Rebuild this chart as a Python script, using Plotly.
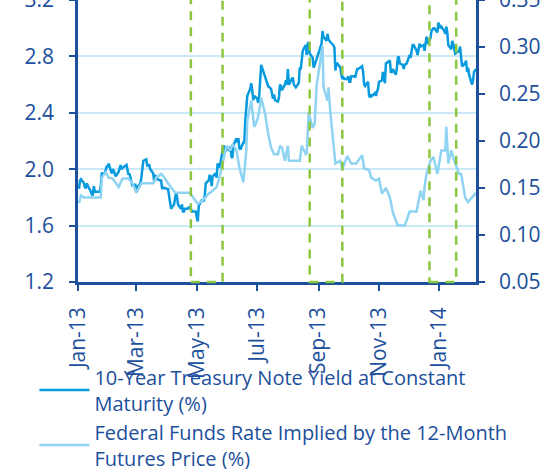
import pandas as pd
import plotly.graph_objects as go

# ---------------- data ----------------
# 10-year Treasury yield, one value per trading day (Jan 2, 2013 - Feb 7, 2014)
bond_holidays = ["2013-01-21", "2013-02-18", "2013-03-29", "2013-05-27", "2013-07-04",
                 "2013-09-02", "2013-10-14", "2013-11-11", "2013-11-28", "2013-12-25",
                 "2014-01-01", "2014-01-20"]
yield_jan13 = [1.86, 1.92, 1.93, 1.90, 1.87, 1.87, 1.90, 1.88, 1.84, 1.82, 1.82, 1.88, 1.84,
               1.84, 1.84, 1.88, 1.97, 1.97, 2.00, 2.02, 2.02]
yield_feb13 = [2.04, 1.97, 2.00, 1.99, 1.96, 1.95, 1.98, 2.00, 2.03, 2.00, 2.01, 2.03, 1.98,
               1.96, 1.97, 1.88, 1.89, 1.89, 1.89]
yield_mar13 = [1.86, 1.89, 1.90, 1.94, 2.01, 2.06, 2.07, 2.02, 2.03, 2.03, 2.00, 1.97, 1.91,
               1.96, 1.93, 1.93, 1.92, 1.92, 1.86, 1.87]
yield_apr13 = [1.86, 1.86, 1.81, 1.76, 1.72, 1.75, 1.78, 1.83, 1.81, 1.75, 1.72, 1.75, 1.70,
               1.70, 1.72, 1.72, 1.73, 1.73, 1.72, 1.70, 1.70, 1.70]
yield_may13 = [1.66, 1.63, 1.74, 1.78, 1.78, 1.77, 1.81, 1.90, 1.92, 1.96, 1.94, 1.88, 1.95,
               1.97, 1.94, 2.04, 2.03, 2.01, 2.17, 2.13, 2.13, 2.16]
yield_jun13 = [2.13, 2.16, 2.09, 2.08, 2.17, 2.22, 2.19, 2.22, 2.15, 2.14, 2.19, 2.19, 2.35,
               2.42, 2.52, 2.57, 2.61, 2.56, 2.49, 2.52]
yield_jul13 = [2.50, 2.47, 2.52, 2.74, 2.67, 2.65, 2.63, 2.60, 2.59, 2.57, 2.54, 2.50, 2.53,
               2.49, 2.48, 2.51, 2.60, 2.59, 2.56, 2.60, 2.63, 2.60]
yield_aug13 = [2.71, 2.60, 2.64, 2.65, 2.60, 2.59, 2.58, 2.61, 2.72, 2.71, 2.77, 2.84, 2.88,
               2.81, 2.89, 2.90, 2.82, 2.79, 2.72, 2.75, 2.76, 2.78]
yield_sep13 = [2.86, 2.89, 2.98, 2.94, 2.91, 2.96, 2.92, 2.91, 2.90, 2.88, 2.86, 2.70, 2.75,
               2.75, 2.72, 2.67, 2.64, 2.65, 2.64, 2.64]
yield_oct13 = [2.66, 2.62, 2.62, 2.66, 2.66, 2.65, 2.68, 2.71, 2.71, 2.73, 2.69, 2.60, 2.59,
               2.62, 2.52, 2.51, 2.53, 2.52, 2.54, 2.52, 2.55, 2.57]
yield_nov13 = [2.62, 2.63, 2.69, 2.64, 2.61, 2.75, 2.77, 2.69, 2.69, 2.71, 2.67, 2.71, 2.79,
               2.80, 2.75, 2.74, 2.71, 2.74, 2.75]
yield_dec13 = [2.81, 2.79, 2.84, 2.88, 2.88, 2.84, 2.81, 2.84, 2.89, 2.87, 2.88, 2.84, 2.89,
               2.94, 2.89, 2.93, 2.98, 3.00, 3.00, 2.97, 3.04]
yield_jan14 = [3.00, 3.01, 2.98, 2.96, 3.01, 2.97, 2.88, 2.85, 2.91, 2.89, 2.86, 2.82, 2.84,
               2.87, 2.79, 2.73, 2.75, 2.77, 2.69, 2.72, 2.67]
yield_feb14 = [2.60, 2.63, 2.69, 2.70, 2.71]

# Fed funds rate implied by 12-month futures (%), read at turning points
ff_dates = ["2013-01-02", "2013-01-04", "2013-01-07", "2013-01-24", "2013-01-25", "2013-01-29",
            "2013-02-01", "2013-02-05", "2013-02-11", "2013-02-15", "2013-02-21", "2013-02-25",
            "2013-03-01", "2013-03-06", "2013-03-18", "2013-03-21", "2013-03-26", "2013-03-28",
            "2013-04-02", "2013-04-09", "2013-04-24", "2013-04-29", "2013-05-02", "2013-05-07",
            "2013-05-13", "2013-05-17", "2013-05-21", "2013-05-24", "2013-05-29", "2013-05-31",
            "2013-06-04", "2013-06-06", "2013-06-10", "2013-06-13", "2013-06-17", "2013-06-20",
            "2013-06-21", "2013-06-25", "2013-06-28", "2013-07-01", "2013-07-03", "2013-07-05",
            "2013-07-09", "2013-07-11", "2013-07-12", "2013-07-15", "2013-07-18", "2013-07-22",
            "2013-07-24", "2013-07-26", "2013-07-29", "2013-08-01", "2013-08-02", "2013-08-13",
            "2013-08-15", "2013-08-19", "2013-08-20", "2013-08-22", "2013-08-26", "2013-08-28",
            "2013-08-30", "2013-09-05", "2013-09-06", "2013-09-10", "2013-09-11", "2013-09-13",
            "2013-09-18", "2013-09-23", "2013-09-25", "2013-09-30", "2013-10-04", "2013-10-09",
            "2013-10-15", "2013-10-17", "2013-10-22", "2013-10-24", "2013-10-29", "2013-11-01",
            "2013-11-04", "2013-11-08", "2013-11-12", "2013-11-15", "2013-11-20", "2013-11-27",
            "2013-12-02", "2013-12-09", "2013-12-12", "2013-12-13", "2013-12-16", "2013-12-17",
            "2013-12-19", "2013-12-23", "2013-12-26", "2013-12-30", "2014-01-03", "2014-01-07",
            "2014-01-08", "2014-01-10", "2014-01-13", "2014-01-16", "2014-01-21", "2014-01-23",
            "2014-01-27", "2014-01-30", "2014-02-03", "2014-02-07"]
ff_values = [0.134, 0.142, 0.140, 0.140, 0.161, 0.167,
             0.161, 0.160, 0.151, 0.160, 0.160, 0.155,
             0.145, 0.155, 0.155, 0.161, 0.165, 0.163,
             0.155, 0.145, 0.145, 0.137, 0.133, 0.137,
             0.144, 0.147, 0.151, 0.162, 0.186, 0.195,
             0.190, 0.197, 0.190, 0.172, 0.156, 0.190,
             0.222, 0.243, 0.215, 0.222, 0.232, 0.246,
             0.229, 0.214, 0.208, 0.193, 0.186, 0.186,
             0.195, 0.193, 0.179, 0.195, 0.179, 0.179,
             0.195, 0.186, 0.187, 0.230, 0.214, 0.218,
             0.259, 0.301, 0.257, 0.243, 0.257, 0.229,
             0.176, 0.179, 0.170, 0.184, 0.176, 0.176,
             0.185, 0.171, 0.169, 0.161, 0.158, 0.160,
             0.144, 0.150, 0.140, 0.124, 0.110, 0.110,
             0.125, 0.125, 0.140, 0.147, 0.137, 0.151,
             0.165, 0.179, 0.183, 0.165, 0.190, 0.190,
             0.215, 0.176, 0.190, 0.179, 0.165, 0.165,
             0.140, 0.135, 0.140, 0.145]

# highlighted event windows
event_starts = ["2013-04-25", "2013-08-23", "2013-12-22"]
event_ends = ["2013-05-27", "2013-09-25", "2014-01-18"]

series_names = ["10-Year Treasury Note Yield at Constant<br>Maturity (%)",
                "Federal Funds Rate Implied by the 12-Month<br>Futures Price (%)"]

# ---------------- build ----------------
yield_values = (yield_jan13 + yield_feb13 + yield_mar13 + yield_apr13 + yield_may13 +
                yield_jun13 + yield_jul13 + yield_aug13 + yield_sep13 + yield_oct13 +
                yield_nov13 + yield_dec13 + yield_jan14 + yield_feb14)
yield_dates = pd.bdate_range("2013-01-02", "2014-02-07", freq="C", holidays=bond_holidays)
assert len(yield_dates) == len(yield_values), (len(yield_dates), len(yield_values))

NAVY = "#1c4f9c"
DARK = "#079ade"
LIGHT = "#8fd3f3"
GRID = "#c9e9f8"
GREEN = "#8cc63f"
FONT = "Open Sans"

fig = go.Figure()
fig.add_trace(go.Scatter(x=yield_dates, y=yield_values, mode="lines", name=series_names[0],
                         line=dict(color=DARK, width=2.5), yaxis="y"))
fig.add_trace(go.Scatter(x=pd.to_datetime(ff_dates), y=ff_values, mode="lines",
                         name=series_names[1], line=dict(color=LIGHT, width=2.5), yaxis="y2"))

for s, e in zip(event_starts, event_ends):
    fig.add_shape(type="rect", xref="x", yref="paper", x0=s, x1=e, y0=0, y1=1.02,
                  line=dict(color=GREEN, width=2.5, dash="9px,7px"), fillcolor="rgba(0,0,0,0)",
                  layer="above")

axis_common = dict(showline=True, linecolor=NAVY, linewidth=2.5, ticks="outside",
                   ticklen=6, tickwidth=2, tickcolor=NAVY, ticklabeloverflow="allow",
                   tickfont=dict(family=FONT, size=21, color=NAVY), zeroline=False)

fig.update_layout(
    width=546, height=469,
    margin=dict(l=78, r=70, t=0, b=187, autoexpand=False),
    paper_bgcolor="white", plot_bgcolor="white",
    font=dict(family=FONT, size=21, color=NAVY),
    xaxis=dict(type="date", range=["2013-01-01", "2014-02-07"], tick0="2013-01-01",
               dtick="M2", tickformat="%b-%y", tickangle=-90, showgrid=False,
               ticklabelstandoff=8, automargin=False, **axis_common),
    yaxis=dict(range=[1.2, 3.2], dtick=0.4, tickformat=".1f", showgrid=True,
               gridcolor=GRID, gridwidth=1.5, ticklabelstandoff=11, automargin=False,
               **axis_common),
    yaxis2=dict(range=[0.05, 0.35], dtick=0.05, tickformat=".2f", overlaying="y",
                side="right", showgrid=False, ticklabelstandoff=10, automargin=False,
                **axis_common),
    showlegend=True,
    legend=dict(orientation="v", xref="container", yref="container",
                x=0.063, xanchor="left", y=0.238, yanchor="top",
                font=dict(family=FONT, size=20, color=NAVY), bgcolor="rgba(0,0,0,0)",
                tracegroupgap=0, itemwidth=50),
)

fig.write_html("out.html", config={"displayModeBar": False},
               post_script="document.body.style.margin='0px';")
